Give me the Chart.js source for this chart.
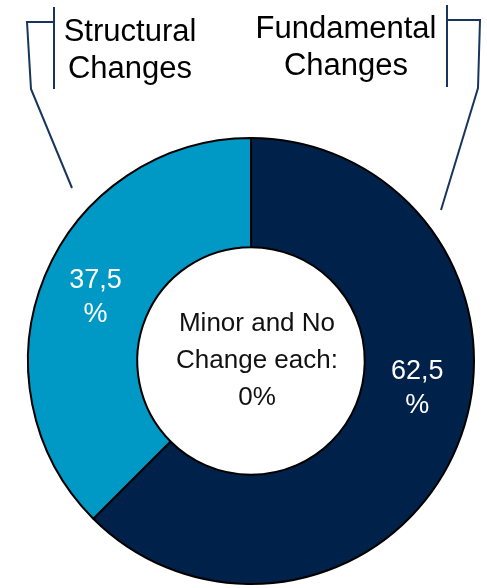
<!DOCTYPE html>
<html>
<head>
<meta charset="utf-8">
<script src="https://cdn.jsdelivr.net/npm/chart.js@4/dist/chart.umd.min.js"></script>
<style>
  html, body { margin: 0; padding: 0; background: #fff; }
  canvas { display: block; }
</style>
</head>
<body>
<canvas id="changeChart" width="487" height="588"></canvas>
<script>
// shares of respondents per kind of change
const categories = ["Fundamental Changes", "Structural Changes"];
const shares = [62.5, 37.5];
const sliceColors = ["#00214A", "#0099C6"];
const calloutTitles = [["Fundamental", "Changes"], ["Structural", "Changes"]];
const otherCategories = ["Minor", "No"];
const otherShares = [0, 0];

const FONT = "'Liberation Sans', Arial, sans-serif";
const LINE = "#17365D";

function fmt(v) {
  return v.toFixed(1).replace(".", ",");
}

// bracket callouts, value labels and the text inside the hole
const overlay = {
  id: "overlay",
  afterDatasetsDraw(chart, args, opts) {
    const ctx = chart.ctx;
    const arcs = chart.getDatasetMeta(0).data;
    const cx = arcs[0].x, cy = arcs[0].y;

    ctx.save();
    ctx.strokeStyle = LINE;
    ctx.lineWidth = 2;
    ctx.lineJoin = "miter";
    opts.brackets.forEach(b => {
      ctx.beginPath();
      ctx.moveTo(b.bar[0], b.bar[1]);
      ctx.lineTo(b.bar[0], b.bar[2]);
      ctx.stroke();
      ctx.beginPath();
      b.leader.forEach((p, i) => i ? ctx.lineTo(p[0], p[1]) : ctx.moveTo(p[0], p[1]));
      ctx.stroke();
    });

    ctx.fillStyle = "#000";
    ctx.textAlign = "center";
    ctx.textBaseline = "alphabetic";
    ctx.font = "31px " + FONT;
    opts.titles.forEach((t, i) => {
      calloutTitles[i].forEach((line, j) => ctx.fillText(line, t.x, t.y + j * 37));
    });

    // percentage labels inside the slices
    ctx.fillStyle = "#fff";
    ctx.font = "27px " + FONT;
    ctx.textBaseline = "middle";
    arcs.forEach((arc, i) => {
      const p = arc.getProps(["startAngle", "endAngle", "innerRadius", "outerRadius"], true);
      const a = p.startAngle + (p.endAngle - p.startAngle) * opts.labelAt[i];
      const r = (p.innerRadius + p.outerRadius) / 2;
      const x = cx + Math.cos(a) * r;
      const y = cy + Math.sin(a) * r;
      ctx.fillText(fmt(shares[i]), x, y - 16);
      ctx.fillText("%", x, y + 18);
    });

    // center note for the empty categories
    ctx.fillStyle = "#111";
    ctx.font = "26px " + FONT;
    const zero = Math.max(...otherShares);
    const lines = [otherCategories[0] + " and " + otherCategories[1], "Change each:", zero + "%"];
    lines.forEach((l, j) => ctx.fillText(l, cx + 6, cy - 37 + j * 37));
    ctx.restore();
  }
};

new Chart(document.getElementById("changeChart"), {
  type: "doughnut",
  data: {
    labels: categories,
    datasets: [{
      data: shares,
      backgroundColor: sliceColors,
      borderColor: "#000",
      borderWidth: 2,
      hoverOffset: 0
    }]
  },
  options: {
    responsive: false,
    animation: false,
    cutout: "51%",
    layout: { padding: { left: 27, right: 12, top: 137, bottom: 3 } },
    plugins: {
      legend: { display: false },
      tooltip: { enabled: false },
      overlay: {
        labelAt: [0.44, 0.5],
        titles: [{ x: 346, y: 38 }, { x: 130, y: 41 }],
        brackets: [
          { bar: [447, 5, 87], leader: [[447, 20], [480, 20], [478, 88], [441, 210]] },
          { bar: [54, 7, 89], leader: [[54, 22], [27, 22], [31, 89], [72, 188]] }
        ]
      }
    }
  },
  plugins: [overlay]
});
</script>
</body>
</html>
